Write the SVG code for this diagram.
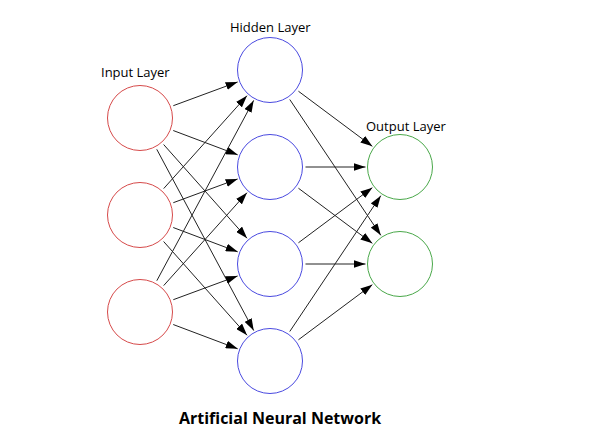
<svg xmlns="http://www.w3.org/2000/svg" width="600" height="445" viewBox="0 0 600 445">
<style>
  .n { fill: #ffffff; stroke-width: 1; }
  .in { stroke: #d64a4a; }
  .hid { stroke: #4a4ae0; }
  .out { stroke: #4aa84a; }
  .lbl { font-family: "Open Sans", "Noto Sans", sans-serif; font-size: 13px; fill: #000; }
  .title { font-family: "Open Sans", "Noto Sans", sans-serif; font-size: 16px; font-weight: bold; fill: #000; }
  .e line { stroke: #222; stroke-width: 1; marker-end: url(#arr); }
</style>
<defs>
  <marker id="arr" markerUnits="userSpaceOnUse" markerWidth="12" markerHeight="8" refX="12" refY="4" orient="auto">
    <path d="M0,0 L12,4 L0,8 z" fill="#000"/>
  </marker>
</defs>
<rect width="600" height="445" fill="#fff"/>
<g id="connectors" class="e">
  <line x1="173.30" y1="105.70" x2="237.64" y2="81.95"/>
  <line x1="173.22" y1="130.52" x2="237.72" y2="154.83"/>
  <line x1="163.61" y1="144.51" x2="247.06" y2="238.24"/>
  <line x1="156.75" y1="149.30" x2="253.73" y2="330.58"/>
  <line x1="163.70" y1="188.57" x2="246.97" y2="95.69"/>
  <line x1="173.30" y1="202.70" x2="237.64" y2="178.95"/>
  <line x1="173.22" y1="227.52" x2="237.72" y2="251.83"/>
  <line x1="163.61" y1="241.51" x2="247.06" y2="335.24"/>
  <line x1="156.80" y1="280.73" x2="253.67" y2="100.39"/>
  <line x1="163.70" y1="285.57" x2="246.97" y2="192.69"/>
  <line x1="173.30" y1="299.70" x2="237.64" y2="275.95"/>
  <line x1="173.22" y1="324.52" x2="237.72" y2="348.83"/>
  <line x1="298.45" y1="91.23" x2="372.35" y2="146.37"/>
  <line x1="289.76" y1="99.49" x2="380.79" y2="235.34"/>
  <line x1="305.5" y1="167" x2="365.5" y2="167"/>
  <line x1="298.45" y1="188.23" x2="372.35" y2="243.37"/>
  <line x1="298.45" y1="242.77" x2="372.35" y2="187.63"/>
  <line x1="305.5" y1="264" x2="365.5" y2="264"/>
  <line x1="289.76" y1="331.51" x2="380.79" y2="195.66"/>
  <line x1="298.45" y1="339.77" x2="372.35" y2="284.63"/>
</g>
<g id="input-label"><text class="lbl" x="101" y="77">Input Layer</text></g>
<g id="hidden-label"><text class="lbl" x="230" y="32">Hidden Layer</text></g>
<g id="output-label"><text class="lbl" x="366" y="131">Output Layer</text></g>
<g id="i1"><circle class="n in" cx="140" cy="118" r="32.5"/></g>
<g id="i2"><circle class="n in" cx="140" cy="215" r="32.5"/></g>
<g id="i3"><circle class="n in" cx="140" cy="312" r="32.5"/></g>
<g id="h1"><circle class="n hid" cx="270" cy="70" r="32.5"/></g>
<g id="h2"><circle class="n hid" cx="270" cy="167" r="32.5"/></g>
<g id="h3"><circle class="n hid" cx="270" cy="264" r="32.5"/></g>
<g id="h4"><circle class="n hid" cx="270" cy="361" r="32.5"/></g>
<g id="o1"><circle class="n out" cx="400" cy="167" r="32.5"/></g>
<g id="o2"><circle class="n out" cx="400" cy="264" r="32.5"/></g>
<g id="title"><text class="title" x="280" y="424" text-anchor="middle">Artificial Neural Network</text></g>
</svg>
